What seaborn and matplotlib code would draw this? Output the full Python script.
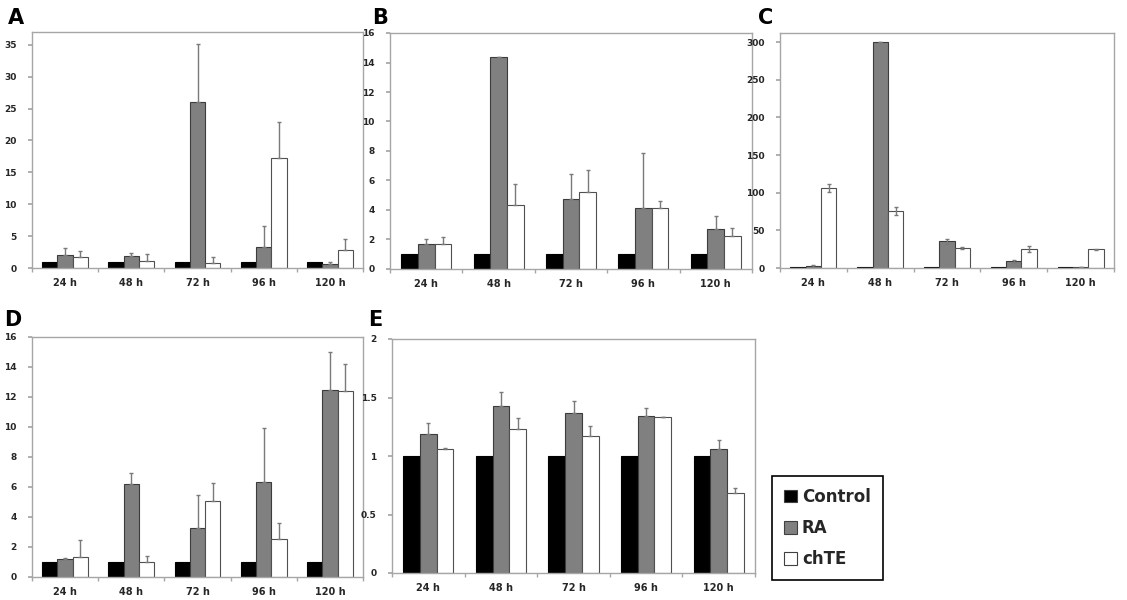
import numpy as np
import pandas as pd
import matplotlib
matplotlib.use("Agg")
import matplotlib.pyplot as plt
import seaborn as sns
from matplotlib.patches import Patch
from matplotlib.ticker import FixedLocator

sns.set_theme(style="white")
plt.rcParams['font.family'] = ['DejaVu Sans']

times = ["24 h", "48 h", "72 h", "96 h", "120 h"]
groups = ["Control", "RA", "chTE"]

# Panel A
a_control = [1, 1, 1, 1, 1]
a_ra = [2.1, 1.9, 26.1, 3.3, 0.7]
a_chte = [1.7, 1.15, 0.8, 17.3, 2.9]
a_ra_err = [1.1, 0.5, 9.0, 3.3, 0.25]
a_chte_err = [1.0, 1.1, 0.9, 5.6, 1.6]
a_yticks = [0, 5, 10, 15, 20, 25, 30, 35]

# Panel B
b_control = [1, 1, 1, 1, 1]
b_ra = [1.7, 14.35, 4.75, 4.14, 2.69]
b_chte = [1.7, 4.36, 5.2, 4.14, 2.21]
b_ra_err = [0.3, 0.05, 1.7, 3.7, 0.88]
b_chte_err = [0.45, 1.4, 1.5, 0.5, 0.6]
b_yticks = [0, 2, 4, 6, 8, 10, 12, 14, 16]

# Panel C
c_control = [1, 1, 1, 1, 1]
c_ra = [3.0, 300, 35.4, 8.9, 1.0]
c_chte = [106, 75.8, 26.6, 25.3, 24.8]
c_ra_err = [1.5, 0.0, 3.5, 1.8, 0.0]
c_chte_err = [5.5, 4.8, 0.8, 4.4, 0.8]
c_yticks = [0, 50, 100, 150, 200, 250, 300]

# Panel D
d_control = [1, 1, 1, 1, 1]
d_ra = [1.22, 6.2, 3.29, 6.35, 12.5]
d_chte = [1.35, 1.0, 5.07, 2.55, 12.4]
d_ra_err = [0.03, 0.75, 2.18, 3.6, 2.5]
d_chte_err = [1.12, 0.42, 1.18, 1.07, 1.78]
d_yticks = [0, 2, 4, 6, 8, 10, 12, 14, 16]

# Panel E
e_control = [1, 1, 1, 1, 1]
e_ra = [1.19, 1.43, 1.37, 1.34, 1.06]
e_chte = [1.06, 1.235, 1.17, 1.33, 0.68]
e_ra_err = [0.09, 0.12, 0.10, 0.07, 0.08]
e_chte_err = [0.005, 0.09, 0.09, 0.005, 0.045]
e_yticks = [0, 0.5, 1, 1.5, 2]
e_yticklabels = ["0", "0.5", "1", "1.5", "2"]

palette = {"Control": "#000000", "RA": "#808080", "chTE": "#ffffff"}
edge = {"Control": "#000000", "RA": "#3c3c3c", "chTE": "#505050"}

fig = plt.figure(figsize=(11.27, 6.0), dpi=100)

W, H = 1127.0, 600.0
def rect(l, t, r, b):
    return [l / W, 1 - b / H, (r - l) / W, (b - t) / H]

panels = [
    ("A", rect(32, 32, 363, 268), a_control, a_ra, a_chte, a_ra_err, a_chte_err, a_yticks, None, 37, False, (8, 8)),
    ("B", rect(390, 33, 752, 269), b_control, b_ra, b_chte, b_ra_err, b_chte_err, b_yticks, None, 16, False, (372, 8)),
    ("C", rect(780, 33, 1114, 268), c_control, c_ra, c_chte, c_ra_err, c_chte_err, c_yticks, None, 312, True, (758, 8)),
    ("D", rect(32, 337, 363, 577), d_control, d_ra, d_chte, d_ra_err, d_chte_err, d_yticks, None, 16, False, (4, 310)),
    ("E", rect(392, 339, 755, 573), e_control, e_ra, e_chte, e_ra_err, e_chte_err, e_yticks, e_yticklabels, 2, False, (368, 310)),
]

for (letter, pos, ctl, ra, chte, ra_err, chte_err, yticks, ytl, ymax, sym, lpos) in panels:
    ax = fig.add_axes(pos)
    df = pd.DataFrame({
        "time": times * 3,
        "group": ["Control"] * 5 + ["RA"] * 5 + ["chTE"] * 5,
        "value": list(ctl) + list(ra) + list(chte),
    })
    sns.barplot(data=df, x="time", y="value", hue="group", order=times,
                hue_order=groups, palette=palette, width=0.69,
                edgecolor="#404040", linewidth=0.8, legend=False, ax=ax,
                errorbar=None)
    errs = {"Control": [0] * 5, "RA": ra_err, "chTE": chte_err}
    for g, cont in zip(groups, ax.containers):
        for p in cont.patches:
            p.set_edgecolor(edge[g])
        if g == "Control":
            continue
        xs = [p.get_x() + p.get_width() / 2 for p in cont.patches]
        ys = [p.get_height() for p in cont.patches]
        e = np.array(errs[g], dtype=float)
        lower = e if sym else np.zeros_like(e)
        ax.errorbar(xs, ys, yerr=[lower, e], fmt="none", ecolor="#7a7a7a",
                    elinewidth=1.0, capsize=1.5, capthick=1.0, zorder=1)
    ax.set_xlim(-0.5, 4.5)
    ax.set_ylim(0, ymax)
    ax.set_yticks(yticks)
    if ytl is not None:
        ax.set_yticklabels(ytl)
    ax.set_xlabel("")
    ax.set_ylabel("")
    for s in ax.spines.values():
        s.set_visible(True)
        s.set_color("#a6a6a6")
        s.set_linewidth(1.0)
    ax.xaxis.set_minor_locator(FixedLocator([-0.5, 0.5, 1.5, 2.5, 3.5, 4.5]))
    ax.tick_params(axis="x", which="major", length=0, pad=7, labelsize=7)
    ax.tick_params(axis="x", which="minor", length=3, color="#a6a6a6", bottom=True)
    ax.tick_params(axis="y", length=3, color="#a6a6a6", left=True, labelsize=6.5, pad=8)
    for lab in ax.get_xticklabels() + ax.get_yticklabels():
        lab.set_fontweight("bold")
    fig.text(lpos[0] / W, 1 - lpos[1] / H, letter, fontsize=15, fontweight="bold",
             ha="left", va="top", color="#000000")

handles = [Patch(facecolor=palette[g], edgecolor="#404040", linewidth=0.8) for g in groups]
leg = fig.legend(handles, groups, loc="upper left",
                 bbox_to_anchor=(772 / W, 1 - 476 / H), frameon=True,
                 borderaxespad=0.0,
                 fancybox=False, edgecolor="#000000", framealpha=1,
                 handlelength=0.8, handleheight=0.8, handletextpad=0.3,
                 labelspacing=0.8, borderpad=0.7,
                 prop={"weight": "bold", "size": 12})
leg.get_frame().set_linewidth(1.2)

fig.savefig("out.png", dpi=100, facecolor="white")
